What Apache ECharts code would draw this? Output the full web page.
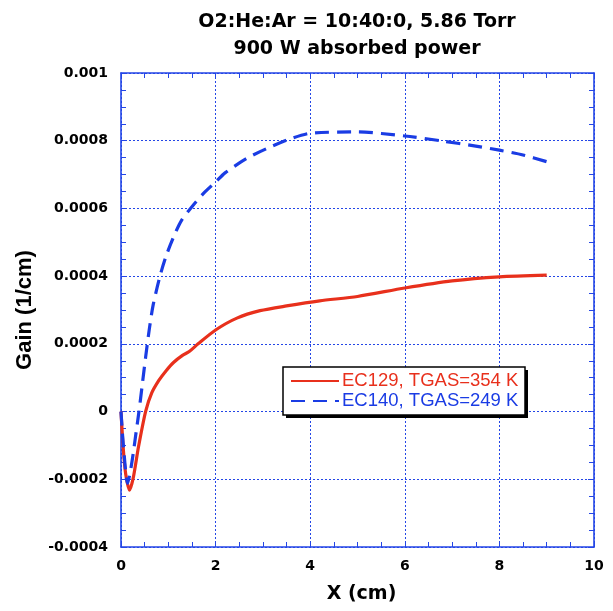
<!DOCTYPE html>
<html><head><meta charset="utf-8">
<script src="https://cdn.jsdelivr.net/npm/echarts@6/dist/echarts.min.js"></script>
<style>html,body{margin:0;padding:0;background:#fff}#c{width:613px;height:611px}</style>
</head><body><div id="c"></div>
<script>
const titleLines = ['O2:He:Ar = 10:40:0, 5.86 Torr', '900 W absorbed power'];
const xName = 'X (cm)';
const yName = 'Gain (1/cm)';
const seriesNames = ['EC129, TGAS=354 K', 'EC140, TGAS=249 K'];
const ec129 = [[0,0],[0.05,-1.13e-4],[0.1,-1.85e-4],[0.18,-2.32e-4],[0.26,-1.95e-4],[0.37,-1.04e-4],[0.52,0],[0.65,0.55e-4],[0.8,0.92e-4],[0.95,1.2e-4],[1.11,1.45e-4],[1.3,1.66e-4],[1.45,1.78e-4],[1.63,2.0e-4],[2,2.41e-4],[2.45,2.76e-4],[2.94,2.98e-4],[3.5,3.12e-4],[4.2,3.27e-4],[5,3.4e-4],[6,3.65e-4],[7,3.86e-4],[8,3.98e-4],[9,4.03e-4]];
const ec140 = [[0,0],[0.05,-1.0e-4],[0.14,-2.12e-4],[0.2,-1.75e-4],[0.26,-1.22e-4],[0.32,-0.6e-4],[0.38,0],[0.45,0.8e-4],[0.52,1.6e-4],[0.6,2.45e-4],[0.68,3.15e-4],[0.82,3.98e-4],[0.96,4.62e-4],[1.14,5.25e-4],[1.28,5.65e-4],[1.5,6.05e-4],[1.75,6.45e-4],[2,6.78e-4],[2.2,7.05e-4],[2.66,7.48e-4],[3.1,7.78e-4],[3.57,8.05e-4],[4,8.22e-4],[5,8.26e-4],[6,8.14e-4],[6.8,7.99e-4],[7.5,7.84e-4],[8,7.72e-4],[8.5,7.58e-4],[9,7.38e-4]];

const RED = '#e8301c', BLUE = '#1a3ce4', AX = '#2446e6';
const SANS = 'Liberation Sans, Arial, sans-serif';
const WIDE = 'DejaVu Sans, sans-serif';
const fmtY = v => parseFloat(Number(v).toPrecision(6)).toString();
const axisCommon = {
  axisLine: {show: true, onZero: false, lineStyle: {color: AX, width: 1.6}},
  axisTick: {show: true, inside: true, length: 6, lineStyle: {color: AX, width: 1}},
  minorTick: {show: true, splitNumber: 4, length: 5, lineStyle: {color: AX, width: 1}},
};
const chart = echarts.init(document.getElementById('c'));
chart.setOption({
  animation: false,
  backgroundColor: '#fff',
  title: [
    {text: titleLines.join('\n'), left: 352, top: 4, textAlign: 'center',
     textStyle: {fontFamily: WIDE, fontWeight: 'bold', fontSize: 19, lineHeight: 27, color: '#000'}}
  ],
  grid: {left: 121, right: 19, top: 73, bottom: 64},
  graphic: [
    {type: 'rect', z: 3, shape: {x: 286, y: 370, width: 242, height: 48}, style: {fill: '#000'}},
    {type: 'rect', z: 3, shape: {x: 283, y: 367, width: 242, height: 48}, style: {fill: '#fff', stroke: '#000', lineWidth: 1.5}}
  ],
  legend: {
    z: 5,
    orient: 'vertical', left: 283, top: 367,
    padding: [4, 6, 4, 7], itemGap: 0, itemWidth: 48, itemHeight: 14,
    backgroundColor: 'transparent', borderWidth: 0,
    itemStyle: {opacity: 0},
    data: [
      {name: seriesNames[0], textStyle: {color: RED}},
      {name: seriesNames[1], textStyle: {color: BLUE}}
    ],
    textStyle: {fontFamily: SANS, fontSize: 18.5, lineHeight: 20, padding: [0, 0, 0, -2]}
  },
  xAxis: [
    Object.assign({type: 'value', min: 0, max: 10, interval: 2, position: 'bottom',
      name: xName, nameLocation: 'middle', nameGap: 38,
      nameTextStyle: {fontFamily: WIDE, fontWeight: 'bold', fontSize: 19, color: '#000', padding: [0, 0, 0, 8]},
      axisLabel: {margin: 12, fontFamily: WIDE, fontWeight: 'bold', fontSize: 14, color: '#000'},
      splitLine: {show: true, lineStyle: {color: AX, type: [2, 2], width: 1}}}, axisCommon),
    Object.assign({type: 'value', min: 0, max: 10, interval: 2, position: 'top',
      axisLabel: {show: false}, splitLine: {show: false}}, axisCommon)
  ],
  yAxis: [
    Object.assign({type: 'value', min: -0.0004, max: 0.001, interval: 0.0002, position: 'left',
      name: yName, nameLocation: 'middle', nameGap: 85,
      nameTextStyle: {fontFamily: SANS, fontWeight: 'bold', fontSize: 22, color: '#000'},
      axisLabel: {margin: 13, fontFamily: WIDE, fontWeight: 'bold', fontSize: 14, color: '#000', formatter: fmtY},
      splitLine: {show: true, lineStyle: {color: AX, type: [2, 2], width: 1}}}, axisCommon),
    Object.assign({type: 'value', min: -0.0004, max: 0.001, interval: 0.0002, position: 'right',
      axisLabel: {show: false}, splitLine: {show: false}}, axisCommon)
  ],
  series: [
    {name: seriesNames[0], type: 'line', data: ec129, symbol: 'none', smooth: 0.25,
     itemStyle: {color: RED}, lineStyle: {color: RED, width: 3.2}},
    {name: seriesNames[1], type: 'line', data: ec140, symbol: 'none', smooth: 0.25,
     itemStyle: {color: BLUE}, lineStyle: {color: BLUE, width: 3.2, type: [14, 8]}}
  ]
});
</script></body></html>
